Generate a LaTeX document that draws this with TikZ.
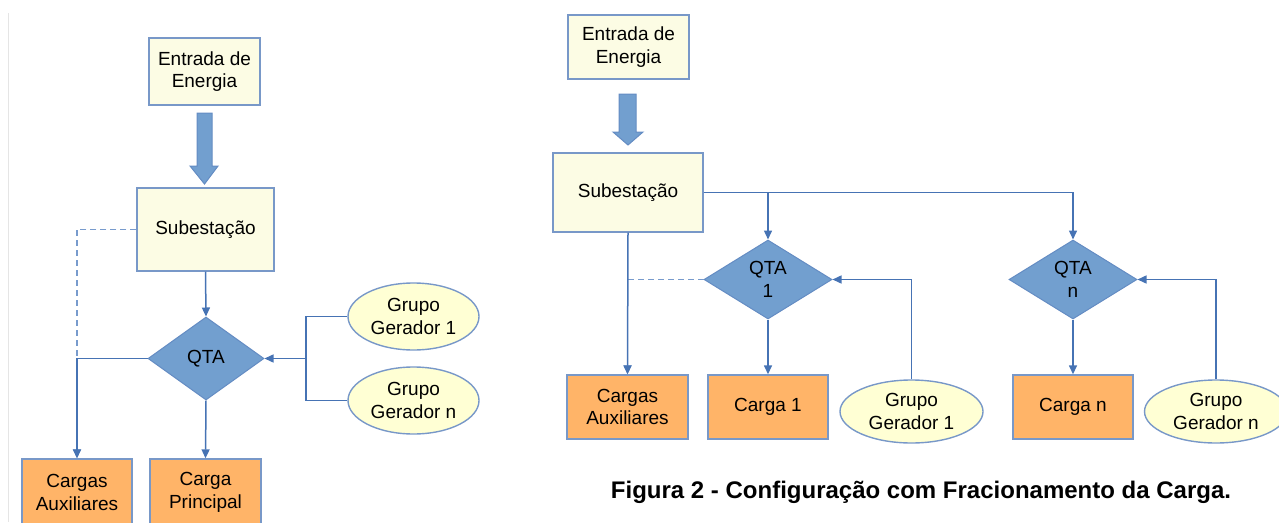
\documentclass[tikz,border=0pt]{standalone}
\usepackage{fontspec}
\setmainfont{Liberation Sans}
\usetikzlibrary{%
  arrows.meta,
  calc,
  shapes.geometric
}
\definecolor{boxfill}{RGB}{252,252,228}
\definecolor{boxline}{RGB}{120,152,200}
\definecolor{qtafill}{RGB}{114,159,207}
\definecolor{qtaline}{RGB}{100,140,195}
\definecolor{loadfill}{RGB}{255,180,104}
\definecolor{genfill}{RGB}{255,255,212}
\definecolor{wireblue}{RGB}{70,115,180}
\definecolor{dashblue}{RGB}{120,155,205}
\tikzset{>={Triangle[length=9pt,width=8pt]}}
\tikzset{
  every node/.style={font=\fontsize{19}{22.5}\selectfont, align=center, inner sep=0pt},
  stagebox/.style={draw=boxline, line width=1.4pt, fill=boxfill},
  loadbox/.style={draw=boxline, line width=1.4pt, fill=loadfill},
  qtabox/.style={diamond, draw=qtaline, line width=1pt, fill=qtafill},
  genbox/.style={ellipse, draw=boxline, line width=1.4pt, fill=genfill},
  wire/.style={draw=wireblue, line width=1.5pt},
  dashwire/.style={draw=dashblue, line width=1.5pt, dash pattern=on 6pt off 4pt},
  bigarrow/.style={fill=qtafill, draw=qtaline, line width=1pt}
}

\begin{document}
\begin{tikzpicture}[x=1pt,y=-1pt]

  \useasboundingbox (0,0) rectangle (1279,522);
  \clip (0,0) rectangle (1279,522);

  % left picture
  \draw[gray!20, line width=1pt] (8,13) -- (8,522);

  \node[stagebox, minimum width=111, minimum height=67] (ent1) at (204.5,71.5) {Entrada de\\Energia};
  \node[stagebox, minimum width=137, minimum height=83] (sub1) at (205.5,229.5) {Subestação};
  \node[qtabox, minimum width=116, minimum height=83] (qta1) at (206,358.5) {QTA};
  \node[loadbox, minimum width=110, minimum height=67] (aux1) at (77,492.5) {Cargas\\Auxiliares};
  \node[loadbox, minimum width=111, minimum height=67] (main1) at (205.5,492.5) {Carga\\Principal};
  \node[genbox, minimum width=131, minimum height=67] (gen1a) at (413.5,316.5) {Grupo\\Gerador 1};
  \node[genbox, minimum width=131, minimum height=67] (gen1n) at (413.5,400.5) {Grupo\\Gerador n};
  \coordinate (join1) at (306,358.5);

  \draw[bigarrow] (197,113) -- (212,113) -- (212,166) -- (218,166) -- (204.5,184)
    -- (190,166) -- (197,166) -- cycle;

  \draw[dashwire,->] (sub1.west) -| (aux1.north);
  \draw[wire,->] (sub1.south) -- (qta1.north);
  \draw[wire,->] (qta1.south) -- (main1.north);
  \draw[wire,->] (qta1.west) -| (aux1.north);
  \draw[wire] (gen1a.west) -| (join1);
  \draw[wire] (gen1n.west) -| (join1);
  \draw[wire,->] (join1) -- (qta1.east);

  % right picture
  \node[stagebox, minimum width=121, minimum height=64] (ent2) at (628.5,47) {Entrada de\\Energia};
  \node[stagebox, minimum width=150, minimum height=79] (sub2) at (628,192.5) {Subestação};
  \node[qtabox, minimum width=128, minimum height=79] (qtaA) at (768,279.5) {QTA\\1};
  \node[qtabox, minimum width=128, minimum height=79] (qtaN) at (1073,279.5) {QTA\\n};
  \node[loadbox, minimum width=121, minimum height=64] (aux2) at (627.5,407) {Cargas\\Auxiliares};
  \node[loadbox, minimum width=120, minimum height=64] (loadA) at (768,407) {Carga 1};
  \node[loadbox, minimum width=120, minimum height=64] (loadN) at (1073,407) {Carga n};
  \node[genbox, minimum width=143, minimum height=63] (gen2a) at (911.5,411.5) {Grupo\\Gerador 1};
  \node[genbox, minimum width=143, minimum height=63] (gen2n) at (1216,411.5) {Grupo\\Gerador n};

  \draw[bigarrow] (619,94) -- (636,94) -- (636,132) -- (643,132) -- (628,145)
    -- (613,132) -- (619,132) -- cycle;

  \draw[wire,->] (sub2.east) -| (qtaA.north);
  \draw[wire,->] (sub2.east) -| (qtaN.north);
  \draw[dashwire,->] (qtaA.west) -| (aux2.north);
  \draw[wire,->] (sub2.south) -- (aux2.north);
  \draw[wire,->] (qtaA.south) -- (loadA.north);
  \draw[wire,->] (qtaN.south) -- (loadN.north);
  \draw[wire,->] (gen2a.north) |- (qtaA.east);
  \draw[wire,->] (gen2n.north) |- (qtaN.east);

  \node[font=\fontsize{24}{27}\selectfont\bfseries] (cap2) at (921,492)
    {Figura 2 - Configuração com Fracionamento da Carga.};

\end{tikzpicture}
\end{document}
